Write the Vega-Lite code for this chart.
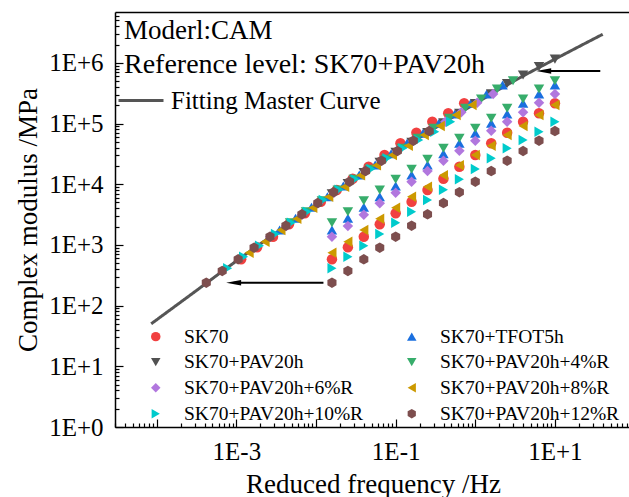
{
"$schema": "https://vega.github.io/schema/vega-lite/v6.json",
"width": 516, "height": 415,
"autosize": {"type": "none"},
"padding": {"left": 115, "top": 12, "right": -2, "bottom": 70},
"config": {
 "font": "Liberation Serif",
 "view": {"stroke": null},
 "axis": {"grid": false, "domainColor": "black", "domainWidth": 1.5, "tickColor": "black", "tickWidth": 1.2, "labelColor": "black", "titleColor": "black", "labelFont": "Liberation Serif", "titleFont": "Liberation Serif", "titleFontWeight": "normal", "labelFontSize": 25, "titleFontSize": 27, "labelOverlap": false, "labelFlush": false},
 "legend": {"labelFont": "Liberation Serif", "labelColor": "black", "labelLimit": 0}
},
"resolve": {"axis": {"x": "independent"}},
"datasets": {
 "curve": [
  {"name": "Fitting Master Curve", "freq": 8.51e-5, "G": 50.1},
  {"name": "Fitting Master Curve", "freq": 3.162e-4, "G": 177.8},
  {"name": "Fitting Master Curve", "freq": 1e-3, "G": 543.3},
  {"name": "Fitting Master Curve", "freq": 3.162e-3, "G": 1585},
  {"name": "Fitting Master Curve", "freq": 0.01, "G": 4571},
  {"name": "Fitting Master Curve", "freq": 0.03162, "G": 12590},
  {"name": "Fitting Master Curve", "freq": 0.1, "G": 33500},
  {"name": "Fitting Master Curve", "freq": 0.3162, "G": 85110},
  {"name": "Fitting Master Curve", "freq": 1, "G": 213800},
  {"name": "Fitting Master Curve", "freq": 3.162, "G": 512900},
  {"name": "Fitting Master Curve", "freq": 10, "G": 1148000},
  {"name": "Fitting Master Curve", "freq": 39.81, "G": 2951000}
 ],
 "pts": [
  {"sample":"SK70","freq":0.01585,"G":579},{"sample":"SK70","freq":0.02512,"G":912},{"sample":"SK70","freq":0.03981,"G":1365},{"sample":"SK70","freq":0.0631,"G":2183},{"sample":"SK70","freq":0.1,"G":3319},{"sample":"SK70","freq":0.1585,"G":5152},{"sample":"SK70","freq":0.2512,"G":8017},{"sample":"SK70","freq":0.3981,"G":12330},{"sample":"SK70","freq":0.631,"G":19410},{"sample":"SK70","freq":1,"G":30270},{"sample":"SK70","freq":1.585,"G":47210},{"sample":"SK70","freq":2.512,"G":70470},{"sample":"SK70","freq":3.981,"G":107200},{"sample":"SK70","freq":6.31,"G":147200},{"sample":"SK70","freq":10,"G":215300},
  {"sample":"SK70","freq":0.001148,"G":579},{"sample":"SK70","freq":0.00182,"G":912},{"sample":"SK70","freq":0.002884,"G":1365},{"sample":"SK70","freq":0.004571,"G":2183},{"sample":"SK70","freq":0.007244,"G":3319},{"sample":"SK70","freq":0.01148,"G":5152},{"sample":"SK70","freq":0.0182,"G":8017},{"sample":"SK70","freq":0.02884,"G":12330},{"sample":"SK70","freq":0.04571,"G":19410},{"sample":"SK70","freq":0.07244,"G":30270},{"sample":"SK70","freq":0.1148,"G":47210},{"sample":"SK70","freq":0.182,"G":70470},{"sample":"SK70","freq":0.2884,"G":107200},{"sample":"SK70","freq":0.4571,"G":147200},{"sample":"SK70","freq":0.7244,"G":215300},
  {"sample":"SK70+TFOT5h","freq":0.01585,"G":1758},{"sample":"SK70+TFOT5h","freq":0.02512,"G":2742},{"sample":"SK70+TFOT5h","freq":0.03981,"G":4159},{"sample":"SK70+TFOT5h","freq":0.0631,"G":6223},{"sample":"SK70+TFOT5h","freq":0.1,"G":9333},{"sample":"SK70+TFOT5h","freq":0.1585,"G":14190},{"sample":"SK70+TFOT5h","freq":0.2512,"G":20700},{"sample":"SK70+TFOT5h","freq":0.3981,"G":31840},{"sample":"SK70+TFOT5h","freq":0.631,"G":47210},{"sample":"SK70+TFOT5h","freq":1,"G":68870},{"sample":"SK70+TFOT5h","freq":1.585,"G":100700},{"sample":"SK70+TFOT5h","freq":2.512,"G":143600},{"sample":"SK70+TFOT5h","freq":3.981,"G":215300},{"sample":"SK70+TFOT5h","freq":6.31,"G":306200},{"sample":"SK70+TFOT5h","freq":10,"G":430500},
  {"sample":"SK70+TFOT5h","freq":0.003491,"G":1758},{"sample":"SK70+TFOT5h","freq":0.005534,"G":2742},{"sample":"SK70+TFOT5h","freq":0.00877,"G":4159},{"sample":"SK70+TFOT5h","freq":0.0139,"G":6223},{"sample":"SK70+TFOT5h","freq":0.02203,"G":9333},{"sample":"SK70+TFOT5h","freq":0.03491,"G":14190},{"sample":"SK70+TFOT5h","freq":0.05534,"G":20700},{"sample":"SK70+TFOT5h","freq":0.0877,"G":31840},{"sample":"SK70+TFOT5h","freq":0.139,"G":47210},{"sample":"SK70+TFOT5h","freq":0.2203,"G":68870},{"sample":"SK70+TFOT5h","freq":0.3491,"G":100700},{"sample":"SK70+TFOT5h","freq":0.5534,"G":143600},{"sample":"SK70+TFOT5h","freq":0.877,"G":215300},{"sample":"SK70+TFOT5h","freq":1.39,"G":306200},{"sample":"SK70+TFOT5h","freq":2.203,"G":430500},
  {"sample":"SK70+PAV20h","freq":0.01585,"G":6918},{"sample":"SK70+PAV20h","freq":0.02512,"G":10230},{"sample":"SK70+PAV20h","freq":0.03981,"G":15490},{"sample":"SK70+PAV20h","freq":0.0631,"G":22910},{"sample":"SK70+PAV20h","freq":0.1,"G":33500},{"sample":"SK70+PAV20h","freq":0.1585,"G":48980},{"sample":"SK70+PAV20h","freq":0.2512,"G":70790},{"sample":"SK70+PAV20h","freq":0.3981,"G":102300},{"sample":"SK70+PAV20h","freq":0.631,"G":147900},{"sample":"SK70+PAV20h","freq":1,"G":213800},{"sample":"SK70+PAV20h","freq":1.585,"G":309000},{"sample":"SK70+PAV20h","freq":2.512,"G":457100},{"sample":"SK70+PAV20h","freq":3.981,"G":631000},{"sample":"SK70+PAV20h","freq":6.31,"G":871000},{"sample":"SK70+PAV20h","freq":10,"G":1148000},
  {"sample":"SK70+PAV20h+4%R","freq":0.01585,"G":2323},{"sample":"SK70+PAV20h+4%R","freq":0.02512,"G":3524},{"sample":"SK70+PAV20h+4%R","freq":0.03981,"G":5346},{"sample":"SK70+PAV20h+4%R","freq":0.0631,"G":8017},{"sample":"SK70+PAV20h+4%R","freq":0.1,"G":12050},{"sample":"SK70+PAV20h+4%R","freq":0.1585,"G":17580},{"sample":"SK70+PAV20h+4%R","freq":0.2512,"G":25700},{"sample":"SK70+PAV20h+4%R","freq":0.3981,"G":38990},{"sample":"SK70+PAV20h+4%R","freq":0.631,"G":57020},{"sample":"SK70+PAV20h+4%R","freq":1,"G":83370},{"sample":"SK70+PAV20h+4%R","freq":1.585,"G":121900},{"sample":"SK70+PAV20h+4%R","freq":2.512,"G":177800},{"sample":"SK70+PAV20h+4%R","freq":3.981,"G":253500},{"sample":"SK70+PAV20h+4%R","freq":6.31,"G":369800},{"sample":"SK70+PAV20h+4%R","freq":10,"G":507000},
  {"sample":"SK70+PAV20h+4%R","freq":0.004721,"G":2323},{"sample":"SK70+PAV20h+4%R","freq":0.007482,"G":3524},{"sample":"SK70+PAV20h+4%R","freq":0.01186,"G":5346},{"sample":"SK70+PAV20h+4%R","freq":0.01879,"G":8017},{"sample":"SK70+PAV20h+4%R","freq":0.02979,"G":12050},{"sample":"SK70+PAV20h+4%R","freq":0.04721,"G":17580},{"sample":"SK70+PAV20h+4%R","freq":0.07482,"G":25700},{"sample":"SK70+PAV20h+4%R","freq":0.1186,"G":38990},{"sample":"SK70+PAV20h+4%R","freq":0.1879,"G":57020},{"sample":"SK70+PAV20h+4%R","freq":0.2979,"G":83370},{"sample":"SK70+PAV20h+4%R","freq":0.4721,"G":121900},{"sample":"SK70+PAV20h+4%R","freq":0.7482,"G":177800},{"sample":"SK70+PAV20h+4%R","freq":1.186,"G":253500},{"sample":"SK70+PAV20h+4%R","freq":1.879,"G":369800},{"sample":"SK70+PAV20h+4%R","freq":2.979,"G":507000},
  {"sample":"SK70+PAV20h+6%R","freq":0.01585,"G":1365},{"sample":"SK70+PAV20h+6%R","freq":0.02512,"G":2046},{"sample":"SK70+PAV20h+6%R","freq":0.03981,"G":3148},{"sample":"SK70+PAV20h+6%R","freq":0.0631,"G":4842},{"sample":"SK70+PAV20h+6%R","freq":0.1,"G":7244},{"sample":"SK70+PAV20h+6%R","freq":0.1585,"G":10990},{"sample":"SK70+PAV20h+6%R","freq":0.2512,"G":16480},{"sample":"SK70+PAV20h+6%R","freq":0.3981,"G":24270},{"sample":"SK70+PAV20h+6%R","freq":0.631,"G":35650},{"sample":"SK70+PAV20h+6%R","freq":1,"G":52120},{"sample":"SK70+PAV20h+6%R","freq":1.585,"G":76030},{"sample":"SK70+PAV20h+6%R","freq":2.512,"G":107200},{"sample":"SK70+PAV20h+6%R","freq":3.981,"G":152800},{"sample":"SK70+PAV20h+6%R","freq":6.31,"G":220300},{"sample":"SK70+PAV20h+6%R","freq":10,"G":306200},
  {"sample":"SK70+PAV20h+6%R","freq":0.002655,"G":1365},{"sample":"SK70+PAV20h+6%R","freq":0.004207,"G":2046},{"sample":"SK70+PAV20h+6%R","freq":0.006668,"G":3148},{"sample":"SK70+PAV20h+6%R","freq":0.01057,"G":4842},{"sample":"SK70+PAV20h+6%R","freq":0.01675,"G":7244},{"sample":"SK70+PAV20h+6%R","freq":0.02655,"G":10990},{"sample":"SK70+PAV20h+6%R","freq":0.04207,"G":16480},{"sample":"SK70+PAV20h+6%R","freq":0.06668,"G":24270},{"sample":"SK70+PAV20h+6%R","freq":0.1057,"G":35650},{"sample":"SK70+PAV20h+6%R","freq":0.1675,"G":52120},{"sample":"SK70+PAV20h+6%R","freq":0.2655,"G":76030},{"sample":"SK70+PAV20h+6%R","freq":0.4207,"G":107200},{"sample":"SK70+PAV20h+6%R","freq":0.6668,"G":152800},{"sample":"SK70+PAV20h+6%R","freq":1.057,"G":220300},{"sample":"SK70+PAV20h+6%R","freq":1.675,"G":306200},
  {"sample":"SK70+PAV20h+8%R","freq":0.01585,"G":743},{"sample":"SK70+PAV20h+8%R","freq":0.02512,"G":1130},{"sample":"SK70+PAV20h+8%R","freq":0.03981,"G":1758},{"sample":"SK70+PAV20h+8%R","freq":0.0631,"G":2704},{"sample":"SK70+PAV20h+8%R","freq":0.1,"G":4102},{"sample":"SK70+PAV20h+8%R","freq":0.1585,"G":6223},{"sample":"SK70+PAV20h+8%R","freq":0.2512,"G":9099},{"sample":"SK70+PAV20h+8%R","freq":0.3981,"G":14030},{"sample":"SK70+PAV20h+8%R","freq":0.631,"G":20460},{"sample":"SK70+PAV20h+8%R","freq":1,"G":30270},{"sample":"SK70+PAV20h+8%R","freq":1.585,"G":43050},{"sample":"SK70+PAV20h+8%R","freq":2.512,"G":64710},{"sample":"SK70+PAV20h+8%R","freq":3.981,"G":90990},{"sample":"SK70+PAV20h+8%R","freq":6.31,"G":138000},{"sample":"SK70+PAV20h+8%R","freq":10,"G":201800},
  {"sample":"SK70+PAV20h+8%R","freq":0.001445,"G":743},{"sample":"SK70+PAV20h+8%R","freq":0.002291,"G":1130},{"sample":"SK70+PAV20h+8%R","freq":0.003631,"G":1758},{"sample":"SK70+PAV20h+8%R","freq":0.005754,"G":2704},{"sample":"SK70+PAV20h+8%R","freq":0.00912,"G":4102},{"sample":"SK70+PAV20h+8%R","freq":0.01445,"G":6223},{"sample":"SK70+PAV20h+8%R","freq":0.02291,"G":9099},{"sample":"SK70+PAV20h+8%R","freq":0.03631,"G":14030},{"sample":"SK70+PAV20h+8%R","freq":0.05754,"G":20460},{"sample":"SK70+PAV20h+8%R","freq":0.0912,"G":30270},{"sample":"SK70+PAV20h+8%R","freq":0.1445,"G":43050},{"sample":"SK70+PAV20h+8%R","freq":0.2291,"G":64710},{"sample":"SK70+PAV20h+8%R","freq":0.3631,"G":90990},{"sample":"SK70+PAV20h+8%R","freq":0.5754,"G":138000},{"sample":"SK70+PAV20h+8%R","freq":0.912,"G":201800},
  {"sample":"SK70+PAV20h+10%R","freq":0.01585,"G":411},{"sample":"SK70+PAV20h+10%R","freq":0.02512,"G":640},{"sample":"SK70+PAV20h+10%R","freq":0.03981,"G":971},{"sample":"SK70+PAV20h+10%R","freq":0.0631,"G":1514},{"sample":"SK70+PAV20h+10%R","freq":0.1,"G":2323},{"sample":"SK70+PAV20h+10%R","freq":0.1585,"G":3524},{"sample":"SK70+PAV20h+10%R","freq":0.2512,"G":5495},{"sample":"SK70+PAV20h+10%R","freq":0.3981,"G":8110},{"sample":"SK70+PAV20h+10%R","freq":0.631,"G":12050},{"sample":"SK70+PAV20h+10%R","freq":1,"G":17780},{"sample":"SK70+PAV20h+10%R","freq":1.585,"G":26730},{"sample":"SK70+PAV20h+10%R","freq":2.512,"G":38990},{"sample":"SK70+PAV20h+10%R","freq":3.981,"G":53460},{"sample":"SK70+PAV20h+10%R","freq":6.31,"G":73280},{"sample":"SK70+PAV20h+10%R","freq":10,"G":107200},
  {"sample":"SK70+PAV20h+10%R","freq":0.0007762,"G":411},{"sample":"SK70+PAV20h+10%R","freq":0.00123,"G":640},{"sample":"SK70+PAV20h+10%R","freq":0.00195,"G":971},{"sample":"SK70+PAV20h+10%R","freq":0.00309,"G":1514},{"sample":"SK70+PAV20h+10%R","freq":0.004898,"G":2323},{"sample":"SK70+PAV20h+10%R","freq":0.007762,"G":3524},{"sample":"SK70+PAV20h+10%R","freq":0.0123,"G":5495},{"sample":"SK70+PAV20h+10%R","freq":0.0195,"G":8110},{"sample":"SK70+PAV20h+10%R","freq":0.0309,"G":12050},{"sample":"SK70+PAV20h+10%R","freq":0.04898,"G":17780},{"sample":"SK70+PAV20h+10%R","freq":0.07762,"G":26730},{"sample":"SK70+PAV20h+10%R","freq":0.123,"G":38990},{"sample":"SK70+PAV20h+10%R","freq":0.195,"G":53460},{"sample":"SK70+PAV20h+10%R","freq":0.309,"G":73280},{"sample":"SK70+PAV20h+10%R","freq":0.4898,"G":107200},
  {"sample":"SK70+PAV20h+12%R","freq":0.01585,"G":238},{"sample":"SK70+PAV20h+12%R","freq":0.02512,"G":372},{"sample":"SK70+PAV20h+12%R","freq":0.03981,"G":579},{"sample":"SK70+PAV20h+12%R","freq":0.0631,"G":900},{"sample":"SK70+PAV20h+12%R","freq":0.1,"G":1365},{"sample":"SK70+PAV20h+12%R","freq":0.1585,"G":2070},{"sample":"SK70+PAV20h+12%R","freq":0.2512,"G":3192},{"sample":"SK70+PAV20h+12%R","freq":0.3981,"G":4898},{"sample":"SK70+PAV20h+12%R","freq":0.631,"G":7379},{"sample":"SK70+PAV20h+12%R","freq":1,"G":10990},{"sample":"SK70+PAV20h+12%R","freq":1.585,"G":16480},{"sample":"SK70+PAV20h+12%R","freq":2.512,"G":24380},{"sample":"SK70+PAV20h+12%R","freq":3.981,"G":35240},{"sample":"SK70+PAV20h+12%R","freq":6.31,"G":52120},{"sample":"SK70+PAV20h+12%R","freq":10,"G":75160},
  {"sample":"SK70+PAV20h+12%R","freq":0.0004188,"G":238},{"sample":"SK70+PAV20h+12%R","freq":0.0006637,"G":372},{"sample":"SK70+PAV20h+12%R","freq":0.001052,"G":579},{"sample":"SK70+PAV20h+12%R","freq":0.001667,"G":900},{"sample":"SK70+PAV20h+12%R","freq":0.002642,"G":1365},{"sample":"SK70+PAV20h+12%R","freq":0.004188,"G":2070},{"sample":"SK70+PAV20h+12%R","freq":0.006637,"G":3192},{"sample":"SK70+PAV20h+12%R","freq":0.01052,"G":4898},{"sample":"SK70+PAV20h+12%R","freq":0.01667,"G":7379},{"sample":"SK70+PAV20h+12%R","freq":0.02642,"G":10990},{"sample":"SK70+PAV20h+12%R","freq":0.04188,"G":16480},{"sample":"SK70+PAV20h+12%R","freq":0.06637,"G":24380},{"sample":"SK70+PAV20h+12%R","freq":0.1052,"G":35240},{"sample":"SK70+PAV20h+12%R","freq":0.1667,"G":52120},{"sample":"SK70+PAV20h+12%R","freq":0.2642,"G":75160}
 ],
 "arrows": [
  {"freq": 0.01239, "freq2": 0.000923, "G": 238},
  {"freq": 37.1, "freq2": 7.23, "G": 732800}
 ],
 "heads": [
  {"freq": 0.000923, "G": 238},
  {"freq": 7.23, "G": 732800}
 ],
 "notes": [
  {"freq": 3.88e-5, "G": 2440000, "label": "Moderl:CAM", "size": "a"},
  {"freq": 3.88e-5, "G": 687000, "label": "Reference level: SK70+PAV20h", "size": "b"}
 ]
},
"layer": [
 {
  "data": {"name": "curve"},
  "mark": {"type": "line", "color": "#555555", "strokeWidth": 3, "interpolate": "monotone"},
  "encoding": {
   "x": {"field": "freq", "type": "quantitative",
    "scale": {"type": "log", "domain": [2.99e-5, 90.2], "nice": false},
    "axis": {"title": "Reduced frequency /Hz", "titlePadding": 3, "labelPadding": 20,
     "values": [3e-5,4e-5,5e-5,6e-5,7e-5,8e-5,9e-5,1e-4,2e-4,3e-4,4e-4,5e-4,6e-4,7e-4,8e-4,9e-4,0.001,0.002,0.003,0.004,0.005,0.006,0.007,0.008,0.009,0.01,0.02,0.03,0.04,0.05,0.06,0.07,0.08,0.09,0.1,0.2,0.3,0.4,0.5,0.6,0.7,0.8,0.9,1,2,3,4,5,6,7,8,9,10,20,30,40,50,60,70,80,90],
     "labelExpr": "datum.value == 0.001 ? '1E-3' : datum.value == 0.1 ? '1E-1' : datum.value == 10 ? '1E+1' : ''",
     "tickSize": {"condition": {"test": "abs(log(datum.value)/LN10 - round(log(datum.value)/LN10)) < 0.01", "value": -8}, "value": -4}}},
   "y": {"field": "G", "type": "quantitative",
    "scale": {"type": "log", "domain": [1, 6870000], "nice": false},
    "axis": {"title": "Complex modulus /MPa", "titlePadding": 6, "labelPadding": 20,
     "values": [1,2,3,4,5,6,7,8,9,10,20,30,40,50,60,70,80,90,100,200,300,400,500,600,700,800,900,1000,2000,3000,4000,5000,6000,7000,8000,9000,10000,20000,30000,40000,50000,60000,70000,80000,90000,100000,200000,300000,400000,500000,600000,700000,800000,900000,1000000,2000000,3000000,4000000,5000000,6000000],
     "labelExpr": "abs(log(datum.value)/LN10 - round(log(datum.value)/LN10)) < 0.01 ? '1E+' + round(log(datum.value)/LN10) : ''",
     "tickSize": {"condition": {"test": "abs(log(datum.value)/LN10 - round(log(datum.value)/LN10)) < 0.01", "value": -8}, "value": -4}}},
   "strokeDash": {"field": "name", "type": "nominal", "scale": {"range": [[1, 0]]},
    "legend": {"orient": "none", "legendX": 2, "legendY": 64.5, "title": null, "labelFontSize": 25, "symbolType": "stroke", "symbolSize": 2025, "symbolStrokeWidth": 3, "symbolStrokeColor": "#555555", "labelOffset": 6, "padding": 0}}
  }
 },
 {
  "data": {"name": "pts"},
  "mark": {"type": "point", "filled": true, "opacity": 1, "size": 110, "strokeWidth": 0},
  "encoding": {
   "x": {"field": "freq", "type": "quantitative", "axis": null},
   "y": {"field": "G", "type": "quantitative"},
   "color": {"field": "sample", "type": "nominal",
    "scale": {"domain": ["SK70","SK70+TFOT5h","SK70+PAV20h","SK70+PAV20h+4%R","SK70+PAV20h+6%R","SK70+PAV20h+8%R","SK70+PAV20h+10%R","SK70+PAV20h+12%R"],
     "range": ["#F14040","#1A6FDF","#515151","#37AD6B","#B177DE","#CC9900","#00CBCC","#7D4E4E"]},
    "legend": {"orient": "none", "direction": "horizontal", "legendX": 31, "legendY": 314.5, "columns": 2, "title": null, "labelFontSize": 19.5, "symbolSize": 90, "labelOffset": 18.5, "columnPadding": 38, "rowPadding": 4.8, "padding": 0}},
   "shape": {"field": "sample", "type": "nominal",
    "scale": {"domain": ["SK70","SK70+TFOT5h","SK70+PAV20h","SK70+PAV20h+4%R","SK70+PAV20h+6%R","SK70+PAV20h+8%R","SK70+PAV20h+10%R","SK70+PAV20h+12%R"],
     "range": ["circle","triangle-up","triangle-down","triangle-down","diamond","triangle-left","triangle-right","M0,-1L0.866,-0.5L0.866,0.5L0,1L-0.866,0.5L-0.866,-0.5Z"]},
    "legend": {"orient": "none", "direction": "horizontal", "legendX": 31, "legendY": 314.5, "columns": 2, "title": null, "labelFontSize": 19.5, "symbolSize": 90, "labelOffset": 18.5, "columnPadding": 38, "rowPadding": 4.8, "padding": 0}}
  }
 },
 {
  "data": {"name": "arrows"},
  "mark": {"type": "rule", "color": "black", "strokeWidth": 2},
  "encoding": {
   "x": {"field": "freq", "type": "quantitative", "axis": null},
   "x2": {"field": "freq2"},
   "y": {"field": "G", "type": "quantitative"}
  }
 },
 {
  "data": {"name": "heads"},
  "mark": {"type": "point", "filled": true, "opacity": 1, "color": "black", "size": 225, "strokeWidth": 0, "shape": "M-1,0L1,-0.38L1,0.38Z"},
  "encoding": {
   "x": {"field": "freq", "type": "quantitative", "axis": null},
   "y": {"field": "G", "type": "quantitative"}
  }
 },
 {
  "data": {"name": "notes"},
  "mark": {"type": "text", "align": "left", "baseline": "alphabetic", "font": "Liberation Serif", "color": "black"},
  "encoding": {
   "x": {"field": "freq", "type": "quantitative", "axis": {"orient": "top", "labels": false, "ticks": false, "title": null, "domain": true, "domainColor": "black", "domainWidth": 1.5}},
   "y": {"field": "G", "type": "quantitative"},
   "text": {"field": "label", "type": "nominal"},
   "size": {"field": "size", "type": "nominal", "scale": {"domain": ["a", "b"], "range": [27, 28]}, "legend": null}
  }
 }
]
}
